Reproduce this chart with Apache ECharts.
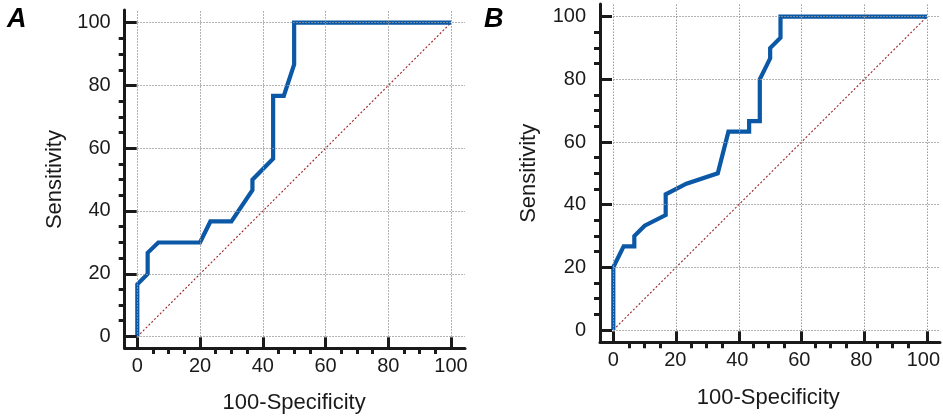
<!DOCTYPE html>
<html>
<head>
<meta charset="utf-8">
<script src="https://cdn.jsdelivr.net/npm/echarts@6/dist/echarts.min.js"></script>
<style>
  html, body { margin: 0; padding: 0; background: #fff; }
  #chart { width: 943px; height: 419px; }
</style>
</head>
<body>
<div id="chart"></div>
<script>
// ROC curve A: [100-Specificity, Sensitivity]
const rocA = [
  [0, 0], [0, 16.7], [3.3, 20], [3.3, 26.7], [6.7, 30], [20, 30], [23.3, 36.7],
  [30, 36.7], [36.7, 46.7], [36.7, 50], [43.3, 56.7], [43.3, 76.7], [46.7, 76.7],
  [50, 86.7], [50, 100], [100, 100]
]
// ROC curve B
const rocB = [
  [0, 0], [0, 20], [3.3, 26.7], [6.7, 26.7], [6.7, 30], [10, 33.3], [16.7, 36.7],
  [16.7, 43.3], [23.3, 46.7], [33.3, 50], [36.7, 63.3], [43.3, 63.3], [43.3, 66.7],
  [46.7, 66.7], [46.7, 80], [50, 86.7], [50, 90], [53.3, 93.3], [53.3, 100], [100, 100]
]
const diagonal = [[0, 0], [100, 100]]
const tickValues = [0, 20, 40, 60, 80, 100]
const panelLabels = ['A', 'B']

const ink = '#1a1a1a'
const font = 'Liberation Sans, Arial, sans-serif'
const W = 943
const H = 419

// pixel layout of each panel: data box (0..100) and where the axis lines sit
const panels = [
  { x0: 137.3, x100: 451, y0: 336.7, y100: 22.7, axisX: 124.7, axisY: 348.3, endX: 465, endY: 10, label: 7, xGap: 44, yGap: 59 },
  { x0: 613.3, x100: 927, y0: 330, y100: 16.7, axisX: 600, axisY: 342.3, endX: 940, endY: 4, label: 484, xGap: 44.5, yGap: 60 }
]

const grids = []
const xAxes = []
const yAxes = []
const series = []
const rocs = [rocA, rocB]

rocs.forEach((roc, i) => {
  const p = panels[i]
  const kx = (p.x100 - p.x0) / 100
  const ky = (p.y0 - p.y100) / 100
  const xMin = (p.axisX - p.x0) / kx
  const xMax = (p.endX - p.x0) / kx
  const yMin = (p.y0 - p.axisY) / ky
  const yMax = (p.y0 - p.endY) / ky

  // outer grid: axis lines, plot marks
  grids.push({ left: p.axisX, right: W - p.endX, top: p.endY, bottom: H - p.axisY })
  // inner grid: exactly 0..100, carries minor ticks, labels and titles
  grids.push({ left: p.x0, right: W - p.x100, top: p.y100, bottom: H - p.y0 })

  const outer = {
    type: 'value',
    axisLine: { show: true, onZero: false, lineStyle: { color: ink, width: 3 } },
    axisTick: { show: false },
    axisLabel: { show: false },
    splitLine: { show: false }
  }
  xAxes.push(Object.assign({}, outer, { gridIndex: i * 2, position: 'bottom', min: xMin, max: xMax }))
  yAxes.push(Object.assign({}, outer, { gridIndex: i * 2, position: 'left', min: yMin, max: yMax }))

  const inner = {
    type: 'value', min: 0, max: 100, interval: 20,
    nameLocation: 'middle',
    nameTextStyle: { color: ink, fontSize: 22, fontFamily: font },
    axisLine: { show: false, onZero: false },
    axisTick: { show: false },
    minorTick: { show: true, splitNumber: 4, length: 6, lineStyle: { color: ink, width: 3 } },
    splitLine: { show: false }
  }
  xAxes.push(Object.assign({}, inner, {
    gridIndex: i * 2 + 1, position: 'bottom', offset: p.axisY - p.y0,
    name: '100-Specificity', nameGap: p.xGap,
    axisLabel: { color: ink, fontSize: 20, fontFamily: font, margin: 8 }
  }))
  yAxes.push(Object.assign({}, inner, {
    gridIndex: i * 2 + 1, position: 'left', offset: p.x0 - p.axisX,
    name: 'Sensitivity', nameGap: p.yGap,
    axisLabel: { color: ink, fontSize: 20, fontFamily: font, margin: 14 }
  }))

  // dotted grid lines from 0 to the end of each axis
  const gridLines = []
  // major ticks, inward from the axis lines
  const majorTicks = []
  tickValues.forEach((v) => {
    gridLines.push([{ coord: [v, 0] }, { coord: [v, yMax] }])
    gridLines.push([{ coord: [0, v] }, { coord: [xMax, v] }])
    majorTicks.push([{ coord: [v, yMin] }, { coord: [v, yMin + 11 / ky] }])
    majorTicks.push([{ coord: [xMin, v] }, { coord: [xMin + 12 / kx, v] }])
  })

  // grid lines
  series.push({
    type: 'line',
    xAxisIndex: i * 2,
    yAxisIndex: i * 2,
    data: [],
    silent: true,
    z: 1,
    markLine: {
      silent: true,
      symbol: 'none',
      label: { show: false },
      emphasis: { disabled: true },
      lineStyle: { color: '#9a9a9a', width: 1, type: [1.5, 1.5] },
      data: gridLines
    }
  })
  // major ticks
  series.push({
    type: 'line',
    xAxisIndex: i * 2,
    yAxisIndex: i * 2,
    data: [],
    silent: true,
    z: 4,
    markLine: {
      silent: true,
      symbol: 'none',
      label: { show: false },
      emphasis: { disabled: true },
      lineStyle: { color: ink, width: 3, type: 'solid' },
      data: majorTicks
    }
  })
  // reference diagonal
  series.push({
    type: 'line',
    xAxisIndex: i * 2,
    yAxisIndex: i * 2,
    data: diagonal,
    symbol: 'none',
    silent: true,
    z: 2,
    lineStyle: { color: '#9b2323', width: 1.1, type: [2, 2] }
  })
  // ROC curve
  series.push({
    type: 'line',
    xAxisIndex: i * 2,
    yAxisIndex: i * 2,
    data: roc,
    symbol: 'none',
    z: 3,
    emphasis: { disabled: true },
    lineStyle: { color: '#0b58a6', width: 4.2, join: 'miter' }
  })
})

const myChart = echarts.init(document.getElementById('chart'))
window.onresize = function () {
  myChart.resize()
}

const option = {
  animation: false,
  backgroundColor: '#fff',
  grid: grids,
  xAxis: xAxes,
  yAxis: yAxes,
  series: series,
  graphic: panels.map((p, i) => ({
    type: 'text', left: p.label, top: 6,
    style: { text: panelLabels[i], font: 'italic bold 27px ' + font, fill: '#000' }
  }))
}

myChart.setOption(option)
</script>
</body>
</html>
